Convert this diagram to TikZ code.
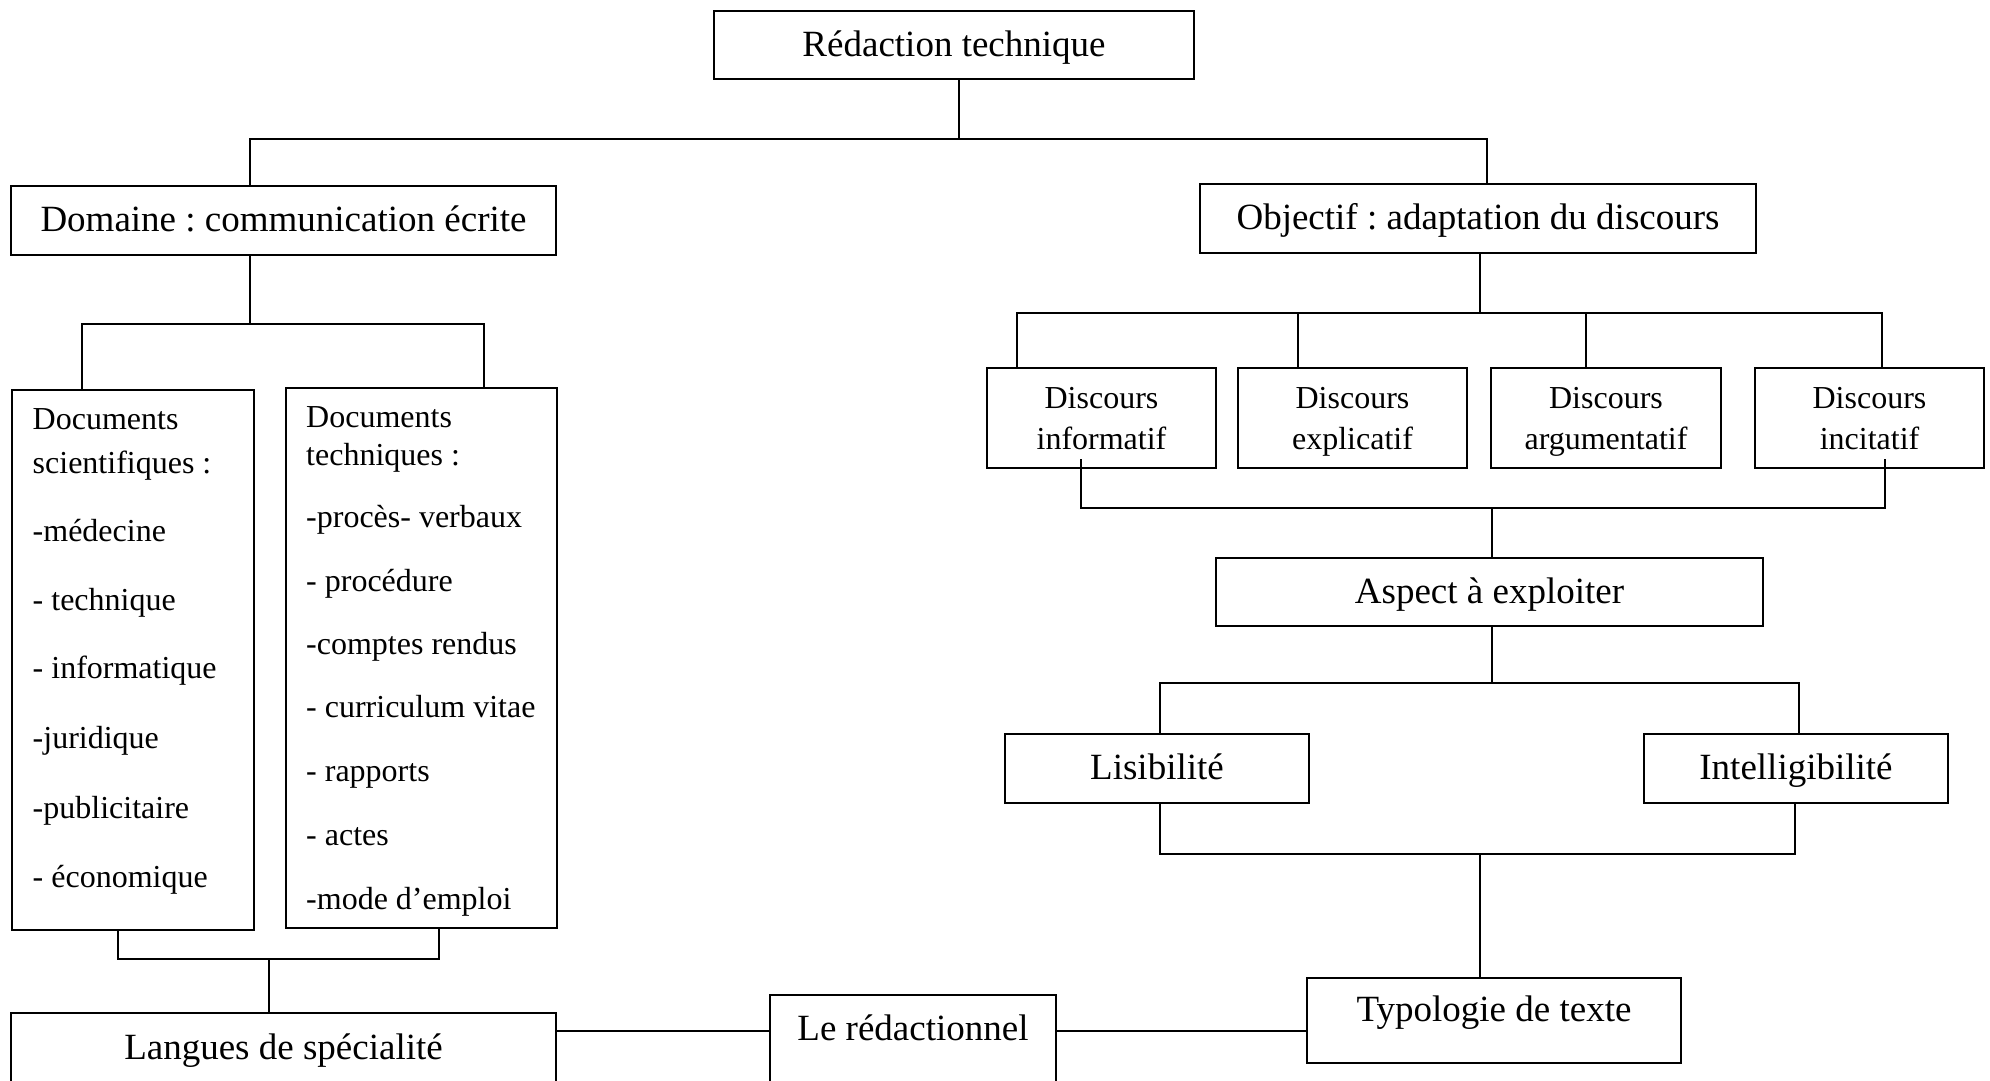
\documentclass[tikz,border=0pt]{standalone}
\usepackage{fontspec}
\setmainfont{Liberation Serif}
\usetikzlibrary{calc}
\frenchspacing
\begin{document}
\begin{tikzpicture}[x=1pt,y=-1pt,
  box/.style={draw, line width=2pt, inner sep=0pt, outer sep=0pt, align=center,
              font=\fontsize{37}{44}\selectfont,
              execute at begin node={\rule{0pt}{36pt}},
              execute at end node={\rule[-13.2pt]{0pt}{0pt}}},
  frame/.style={draw, line width=2pt, inner sep=0pt, outer sep=0pt},
  lbl/.style={inner sep=0pt, anchor=base, font=\fontsize{37}{44}\selectfont},
  slbl/.style={inner sep=0pt, anchor=base, font=\fontsize{32}{41}\selectfont},
  item/.style={inner sep=0pt, anchor=base west, font=\fontsize{32}{41}\selectfont},
  conn/.style={line width=2pt}]
\useasboundingbox[fill=white] (0,0) rectangle (1990,1081);
\clip (0,0) rectangle (1990,1081);

% top level
\node[box, minimum width=480pt, minimum height=68pt] (redac) at (954,45) {Rédaction technique};
\node[box, minimum width=545pt, minimum height=69pt] (domaine) at (283.5,220.5) {Domaine : communication écrite};
\node[box, minimum width=556pt, minimum height=69pt] (objectif) at (1478,218.5) {Objectif : adaptation du discours};

% document lists
\node[frame, minimum width=242.5pt, minimum height=540pt] (docsci) at (132.75,660) {};
\node[frame, minimum width=271pt, minimum height=540pt] (doctech) at (421.5,658) {};

\node[item] (sci1) at (32.5,429) {Documents};
\node[item] (sci2) at (32.5,473) {scientifiques :};
\node[item] (sci3) at (32.5,541) {-médecine};
\node[item] (sci4) at (32.5,610) {- technique};
\node[item] (sci5) at (32.5,678.6) {- informatique};
\node[item] (sci6) at (32.5,748.8) {-juridique};
\node[item] (sci7) at (32.5,818) {-publicitaire};
\node[item] (sci8) at (32.5,887) {- économique};

\node[item] (tec1) at (306,427) {Documents};
\node[item] (tec2) at (306,465) {techniques :};
\node[item] (tec3) at (306,527.5) {-procès- verbaux};
\node[item] (tec4) at (306,591) {- procédure};
\node[item] (tec5) at (306,654) {-comptes rendus};
\node[item] (tec6) at (306,717.5) {- curriculum vitae};
\node[item] (tec7) at (306,781) {- rapports};
\node[item] (tec8) at (306,845) {- actes};
\node[item] (tec9) at (306,909) {-mode d’emploi};

% kinds of discourse
\node[frame, minimum width=229pt, minimum height=100pt] (d1) at (1101.5,418) {};
\node[frame, minimum width=229pt, minimum height=100pt] (d2) at (1352.5,418) {};
\node[frame, minimum width=230pt, minimum height=100pt] (d3) at (1606,418) {};
\node[frame, minimum width=229pt, minimum height=100pt] (d4) at (1869.5,418) {};
\node[slbl] (d1-a) at (1101.5,408) {Discours};
\node[slbl] (d1-b) at (1101.5,449) {informatif};
\node[slbl] (d2-a) at (1352.5,408) {Discours};
\node[slbl] (d2-b) at (1352.5,449) {explicatif};
\node[slbl] (d3-a) at (1606,408) {Discours};
\node[slbl] (d3-b) at (1606,449) {argumentatif};
\node[slbl] (d4-a) at (1869.5,408) {Discours};
\node[slbl] (d4-b) at (1869.5,449) {incitatif};

\node[box, minimum width=547pt, minimum height=68pt] (aspect) at (1489.5,592) {Aspect à exploiter};
\node[box, minimum width=304pt, minimum height=69pt] (lisib) at (1157,768.5) {Lisibilité};
\node[box, minimum width=304pt, minimum height=69pt] (intell) at (1796,768.5) {Intelligibilité};

% bottom row
\node[frame, minimum width=374pt, minimum height=85pt] (typo) at (1494,1020.5) {};
\node[lbl] (typo-t) at (1494,1021.5) {Typologie de texte};
\node[frame, minimum width=286pt, minimum height=100pt] (lered) at (913,1045) {};
\node[lbl] (lered-t) at (913,1040) {Le rédactionnel};
\node[frame, minimum width=545pt, minimum height=76pt] (langues) at (283.5,1051) {};
\node[lbl] (langues-t) at (283.5,1059.5) {Langues de spécialité};

% junction points
\coordinate (jt) at (959,139);
\coordinate (jtl) at (250,139);
\coordinate (jtr) at (1487,139);
\coordinate (jd) at (250,324);
\coordinate (jdl) at (82,324);
\coordinate (jdr) at (484,324);
\coordinate (jo) at (1480,313);
\coordinate (jo1) at (1017,313);
\coordinate (jo2) at (1298,313);
\coordinate (jo3) at (1586,313);
\coordinate (jo4) at (1882,313);
\coordinate (jb) at (1492,508);
\coordinate (jb1) at (1081,508);
\coordinate (jb4) at (1885,508);
\coordinate (ja) at (1492,683);
\coordinate (jal) at (1160,683);
\coordinate (jar) at (1799,683);
\coordinate (jl) at (1480,854);
\coordinate (jll) at (1160,854);
\coordinate (jlr) at (1795,854);
\coordinate (jdb) at (269,959);
\coordinate (jdbl) at (118,959);
\coordinate (jdbr) at (439,959);
\coordinate (jr) at (0,1031);

% connectors
\draw[conn] (redac.south -| jt) -- (jt);
\draw[conn] (jtl |- domaine.north) -- (jtl) -- (jtr) -- (jtr |- objectif.north);

\draw[conn] (domaine.south -| jd) -- (jd);
\draw[conn] (jdl |- docsci.north) -- (jdl) -- (jdr) -- (jdr |- doctech.north);

\draw[conn] (objectif.south -| jo) -- (jo);
\draw[conn] (jo1 |- d1.north) -- (jo1) -- (jo4) -- (jo4 |- d4.north);
\draw[conn] (jo2) -- (jo2 |- d2.north);
\draw[conn] (jo3) -- (jo3 |- d3.north);

\draw[conn] ($(jb1 |- d1.south)+(0,-9)$) -- (jb1) -- (jb4) -- ($(jb4 |- d4.south)+(0,-9)$);
\draw[conn] (jb) -- (jb |- aspect.north);

\draw[conn] (aspect.south -| ja) -- (ja);
\draw[conn] (jal |- lisib.north) -- (jal) -- (jar) -- (jar |- intell.north);

\draw[conn] (jll |- lisib.south) -- (jll) -- (jlr) -- (jlr |- intell.south);
\draw[conn] (jl) -- (jl |- typo.north);

\draw[conn] (jdbl |- docsci.south) -- (jdbl) -- (jdbr) -- (jdbr |- doctech.south);
\draw[conn] (jdb) -- (jdb |- langues.north);

\draw[conn] (langues.east |- jr) -- (lered.west |- jr);
\draw[conn] (lered.east |- jr) -- (typo.west |- jr);
\end{tikzpicture}
\end{document}
